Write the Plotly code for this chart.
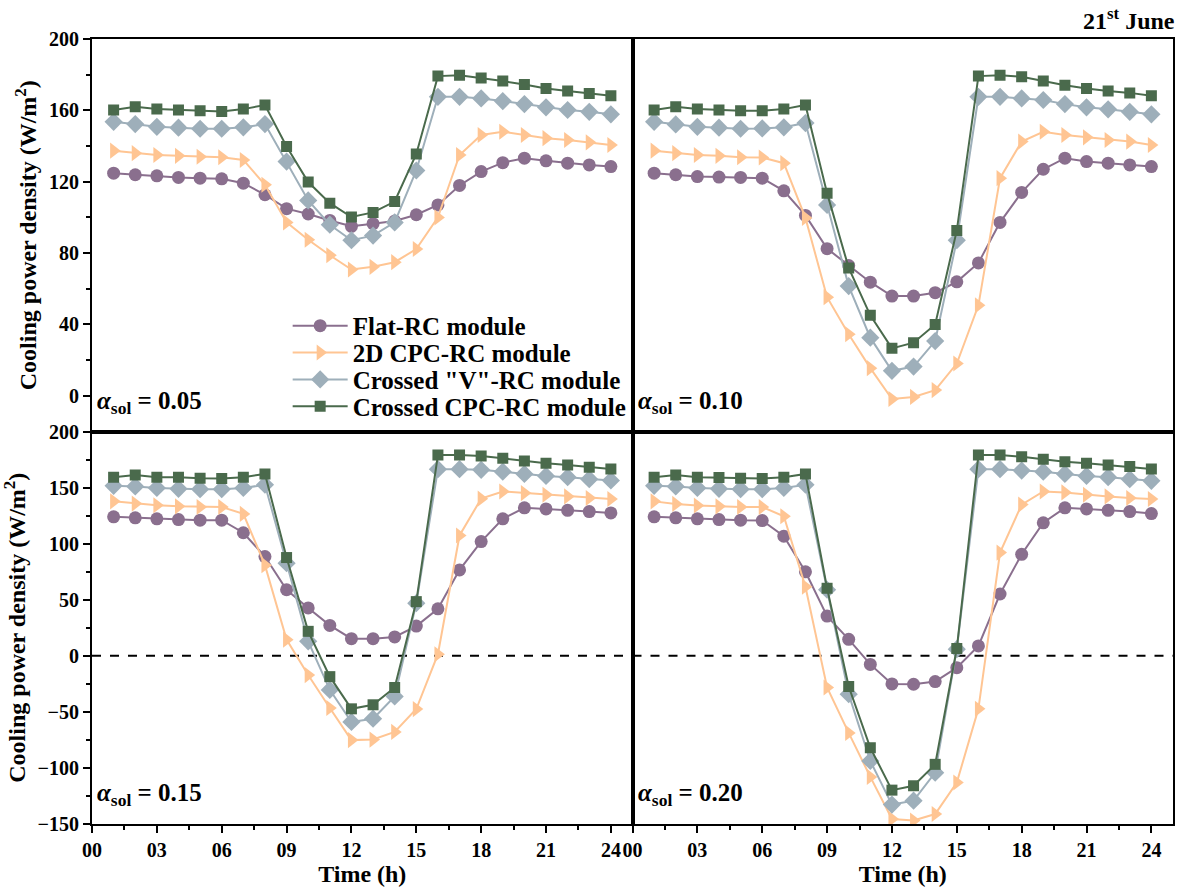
import plotly.graph_objects as go
from plotly.subplots import make_subplots

# Hour of day for every sample
hours = list(range(1, 25))

series_names = ["Flat-RC module", "2D CPC-RC module", 'Crossed "V"-RC module', "Crossed CPC-RC module"]
series_colors = ["#8a6f8e", "#ffc593", "#9eafba", "#4a6a4c"]
series_symbols = ["circle", "triangle-right", "diamond", "square"]
series_sizes = [13, 14, 14, 11]

# Cooling power density (W/m2), solar absorptance 0.05
flat_005 = [124.8, 123.9, 123.3, 122.4, 122.0, 121.6, 119.2, 112.7, 104.9, 101.9, 98.3, 95.0,
            96.5, 98.0, 101.5, 107.0, 117.9, 125.7, 130.7, 133.2, 131.7, 130.4, 129.4, 128.5]
cpc2d_005 = [137.4, 136.0, 135.0, 134.5, 134.0, 133.7, 132.2, 118.3, 97.2, 87.5, 78.8, 70.8,
             72.3, 74.9, 82.3, 100.0, 135.0, 146.2, 148.0, 146.2, 144.4, 143.4, 142.1, 140.6]
crossv_005 = [153.6, 152.3, 150.8, 150.3, 149.7, 149.7, 150.5, 152.3, 131.3, 109.5, 95.9, 87.2,
              89.8, 97.2, 126.3, 167.6, 167.6, 166.7, 165.2, 163.5, 161.7, 160.2, 159.2, 157.8]
crosscpc_005 = [160.2, 162.0, 160.7, 160.2, 159.8, 159.4, 160.7, 163.0, 139.7, 119.8, 108.0, 100.2,
                102.8, 108.9, 135.6, 179.2, 179.7, 178.2, 176.4, 174.5, 172.3, 170.8, 169.5, 168.2]

# Solar absorptance 0.10
flat_010 = [124.8, 123.9, 122.9, 122.6, 122.4, 122.0, 114.9, 101.1, 82.5, 73.0, 63.7, 55.9,
            55.9, 57.8, 63.9, 74.5, 97.2, 114.0, 127.0, 133.2, 131.3, 130.4, 129.4, 128.5]
cpc2d_010 = [137.4, 136.0, 135.0, 134.5, 133.7, 133.6, 130.4, 99.7, 55.3, 34.5, 15.5, -1.8,
             -0.6, 3.2, 18.1, 50.7, 122.0, 142.5, 148.0, 146.2, 144.9, 143.4, 142.5, 140.6]
crossv_010 = [153.6, 152.1, 150.8, 150.3, 149.7, 149.9, 150.5, 152.9, 107.0, 61.5, 32.6, 14.0,
              16.4, 30.7, 87.2, 167.6, 167.6, 166.7, 165.8, 163.5, 161.7, 160.6, 159.2, 157.8]
crosscpc_010 = [160.2, 162.0, 160.7, 160.2, 159.8, 159.8, 160.7, 163.0, 113.6, 71.7, 45.1, 26.6,
                29.8, 40.0, 92.7, 179.2, 179.7, 178.8, 176.4, 174.1, 172.3, 170.8, 169.8, 168.2]

# Solar absorptance 0.15
flat_015 = [123.9, 123.0, 122.1, 121.5, 120.9, 120.9, 109.7, 88.5, 58.9, 42.7, 27.1, 15.3,
            15.3, 16.8, 26.5, 41.9, 76.6, 101.8, 122.1, 131.9, 131.0, 129.7, 128.6, 127.4]
cpc2d_015 = [137.7, 135.7, 134.2, 133.3, 132.7, 132.7, 126.5, 80.8, 14.4, -17.2, -46.6, -75.2,
             -74.7, -67.9, -47.5, 1.4, 107.3, 140.1, 146.5, 145.1, 143.6, 142.1, 140.7, 139.8]
crossv_015 = [151.6, 151.0, 149.6, 148.9, 148.6, 148.6, 149.6, 152.5, 82.6, 12.9, -30.4, -59.0,
              -56.1, -36.3, 46.9, 166.4, 166.4, 165.8, 164.2, 162.2, 160.4, 159.3, 157.5, 156.3]
crosscpc_015 = [159.3, 161.3, 159.3, 159.3, 158.4, 158.1, 159.3, 162.2, 87.6, 21.8, -18.6, -47.3,
                -43.7, -28.3, 48.3, 179.0, 179.0, 178.1, 176.1, 173.7, 171.7, 170.2, 168.1, 166.6]

# Solar absorptance 0.20
flat_020 = [123.9, 123.0, 122.1, 121.5, 120.9, 120.6, 106.7, 74.9, 35.4, 14.7, -7.7, -25.1,
            -25.4, -23.0, -10.6, 8.8, 55.1, 90.5, 118.6, 131.9, 131.0, 129.7, 128.6, 126.8]
cpc2d_020 = [137.7, 135.4, 134.0, 133.3, 132.7, 132.7, 124.4, 61.6, -28.3, -68.8, -108.0, -145.5,
             -146.9, -141.1, -113.0, -47.3, 92.0, 134.8, 146.5, 145.7, 143.6, 142.1, 140.7, 139.8]
crossv_020 = [151.6, 151.0, 149.6, 148.9, 148.6, 148.6, 149.6, 152.5, 58.9, -34.2, -93.8, -132.7,
              -129.2, -104.2, 5.9, 166.4, 166.4, 165.2, 164.2, 162.2, 160.4, 159.3, 157.5, 156.0]
crosscpc_020 = [159.3, 161.3, 159.3, 159.0, 158.4, 158.1, 159.3, 162.2, 60.2, -27.4, -82.0, -119.8,
                -115.9, -96.8, 6.5, 179.0, 179.0, 177.5, 175.2, 173.1, 171.7, 170.2, 168.7, 166.6]

absorptances = ["0.05", "0.10", "0.15", "0.20"]
panels = [
    (1, 1, [flat_005, cpc2d_005, crossv_005, crosscpc_005]),
    (1, 2, [flat_010, cpc2d_010, crossv_010, crosscpc_010]),
    (2, 1, [flat_015, cpc2d_015, crossv_015, crosscpc_015]),
    (2, 2, [flat_020, cpc2d_020, crossv_020, crosscpc_020]),
]

x_tickvals = [0, 3, 6, 9, 12, 15, 18, 21, 24]
x_ticktext = ["00", "03", "06", "09", "12", "15", "18", "21", "24"]
top_yticks = [0, 40, 80, 120, 160, 200]
bottom_yticks = [-150, -100, -50, 0, 50, 100, 150, 200]

FONT = "Liberation Serif, Times New Roman, serif"
legend_ids = ["legend", "legend2", "legend3", "legend4"]
legend_rows = [0.6345, 0.6003, 0.566, 0.5317]

fig = make_subplots(rows=2, cols=2, horizontal_spacing=0, vertical_spacing=0)

for (r, c, data) in panels:
    for i, vals in enumerate(data):
        fig.add_trace(
            go.Scatter(
                x=hours, y=vals, mode="lines+markers",
                name=series_names[i],
                legend=legend_ids[i],
                showlegend=(r == 1 and c == 1),
                line=dict(color=series_colors[i], width=2),
                marker=dict(symbol=series_symbols[i], size=series_sizes[i],
                            color=series_colors[i], line=dict(width=0)),
            ),
            row=r, col=c,
        )

axis_line = dict(showline=True, linecolor="black", linewidth=2, mirror=True,
                 showgrid=False, zeroline=False)
tickfont = dict(family=FONT, size=20, color="black", weight="bold")

for r in (1, 2):
    for c in (1, 2):
        fig.update_xaxes(
            range=[0, 25], tickvals=x_tickvals, ticktext=x_ticktext,
            showticklabels=(r == 2), ticks=("outside" if r == 2 else ""),
            ticklen=7, tickwidth=2, tickcolor="black",
            minor=(dict(tickvals=[1.5, 4.5, 7.5, 10.5, 13.5, 16.5, 19.5, 22.5],
                        ticks="outside", ticklen=4, tickwidth=2, tickcolor="black")
                   if r == 2 else dict(ticks="")),
            tickfont=tickfont,
            title=(dict(text="<b>Time (h)</b>", font=dict(family=FONT, size=24, color="black"),
                        standoff=3) if r == 2 else None),
            row=r, col=c, **axis_line,
        )
        if r == 1:
            yr, yt, ym = [-20, 200], top_yticks, 20
        else:
            yr, yt, ym = [-150, 200], bottom_yticks, 25
        fig.update_yaxes(
            range=yr, tickvals=yt,
            showticklabels=(c == 1), ticks=("outside" if c == 1 else ""),
            ticklen=7, tickwidth=2, tickcolor="black",
            minor=(dict(dtick=ym, ticks="outside", ticklen=4, tickwidth=2, tickcolor="black")
                   if c == 1 else dict(ticks="")),
            tickfont=tickfont,
            title=(dict(text="<b>Cooling power density (W/m<sup>2</sup>)</b>",
                        font=dict(family=FONT, size=24, color="black"), standoff=6)
                   if c == 1 else None),
            row=r, col=c, **axis_line,
        )

# Zero reference line on the panels that cross into negative values
for c in (1, 2):
    fig.add_hline(y=0, line=dict(color="black", width=2, dash="dash"), layer="below", row=2, col=c)

# Solar absorptance label in each panel
axis_ids = ["", "2", "3", "4"]
for k, a in enumerate(absorptances):
    fig.add_annotation(
        text=f"<b><i>α</i><sub>sol</sub> = {a}</b>",
        xref=f"x{axis_ids[k]} domain", yref=f"y{axis_ids[k]} domain",
        x=0.006, y=0.075, xanchor="left", yanchor="middle", showarrow=False,
        font=dict(family=FONT, size=25, color="black"),
    )

fig.add_annotation(
    text="<b>21<sup>st</sup> June</b>", xref="paper", yref="paper",
    x=1.0, y=1.0, xanchor="right", yanchor="bottom", xshift=4, yshift=3, showarrow=False,
    font=dict(family=FONT, size=24, color="black"),
)

legend_layout = {}
for lid, ly in zip(legend_ids, legend_rows):
    legend_layout[lid] = dict(
        x=0.181, y=ly, xanchor="left", yanchor="middle",
        bgcolor="rgba(0,0,0,0)", itemwidth=55, borderwidth=0,
        font=dict(family=FONT, size=25, color="black", weight="bold"),
    )

fig.update_layout(
    width=1181, height=887,
    margin=dict(l=92, r=6, t=39, b=60),
    paper_bgcolor="white", plot_bgcolor="white",
    font=dict(family=FONT, color="black"),
    **legend_layout,
)

fig.write_html("out.html")
